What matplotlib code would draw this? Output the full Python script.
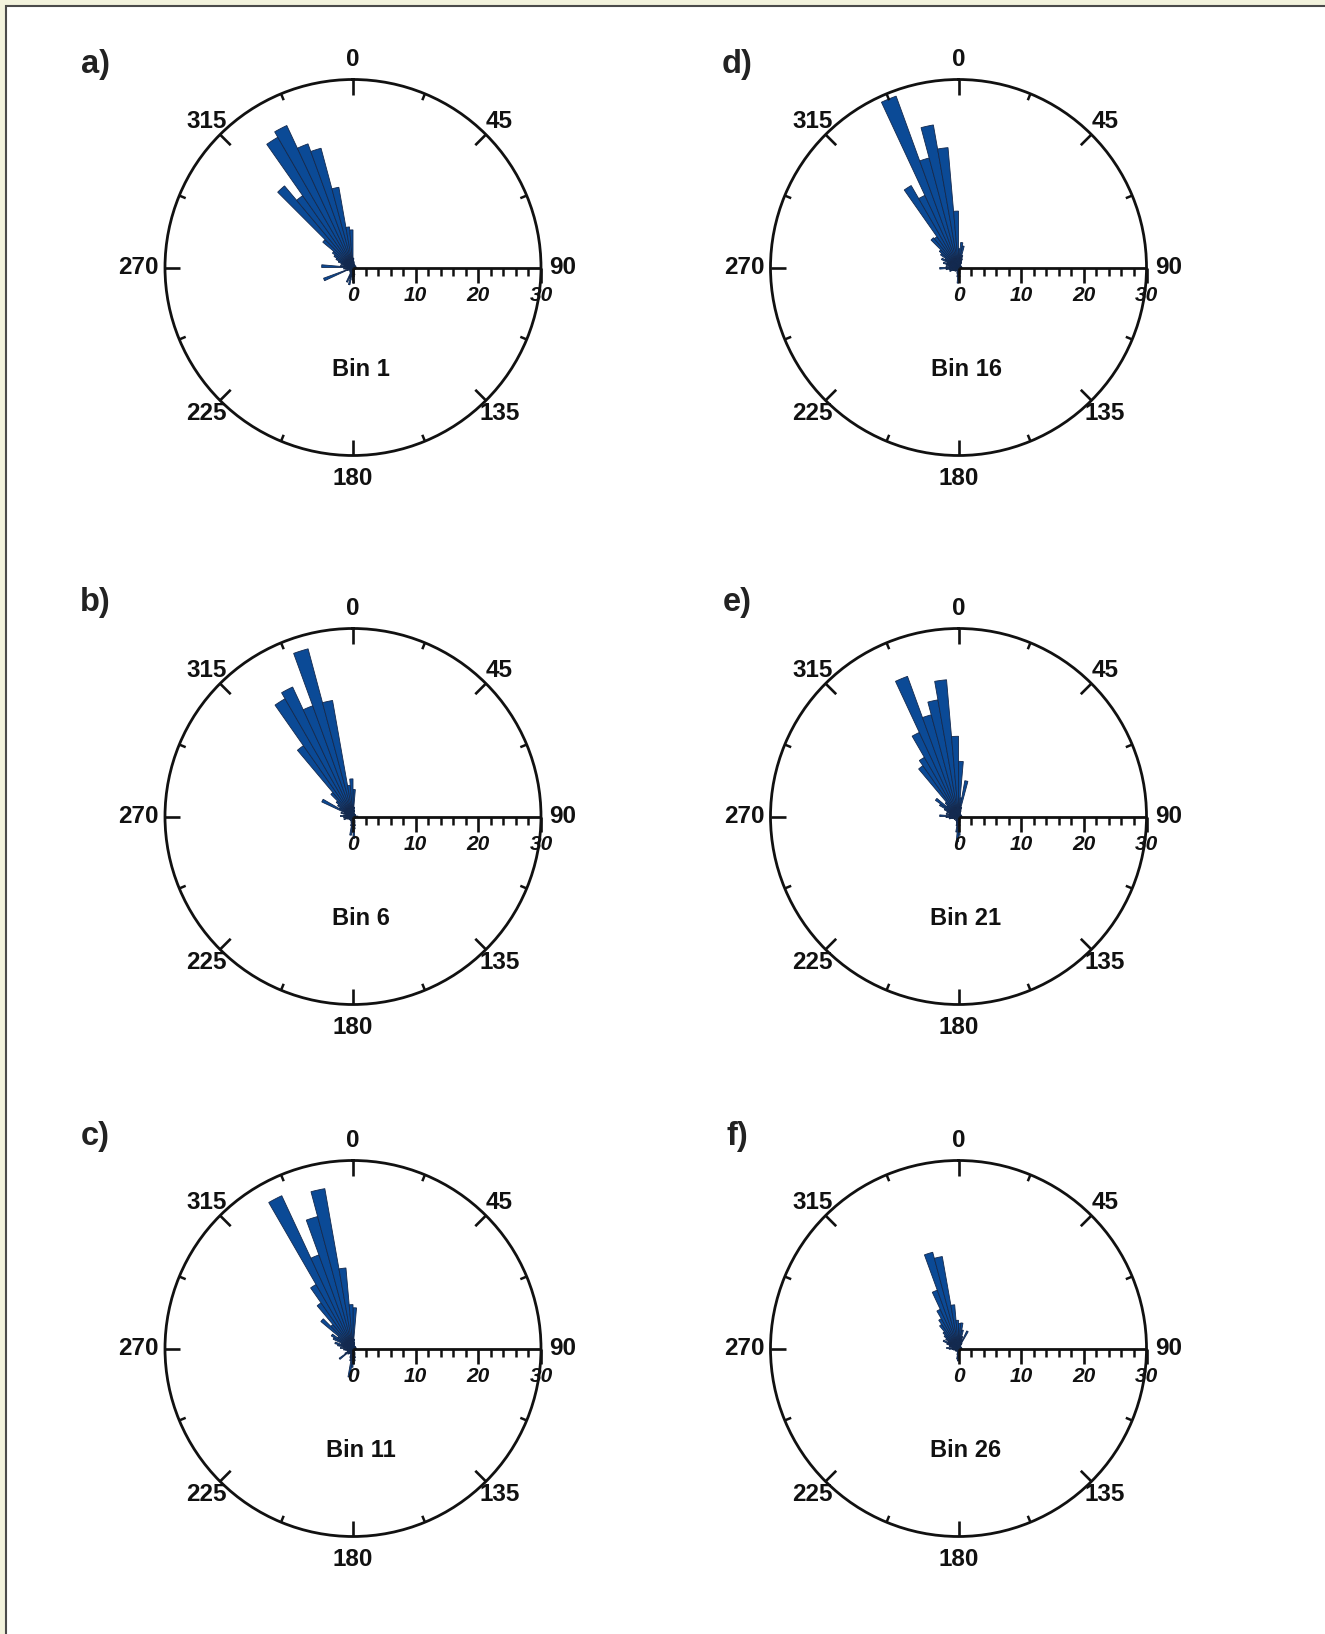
"""Rose diagrams of fracture azimuths for six depth bins."""
import numpy as np
import matplotlib.pyplot as plt
from matplotlib.patches import Rectangle

plt.rcParams['font.family'] = ['Liberation Sans', 'DejaVu Sans']

# 5-degree azimuth bins, centred on 2.5, 7.5, ... 357.5
BIN_CENTERS = np.arange(2.5, 360, 5)
BIN_WIDTH = 5.0
R_MAX = 30

# counts per bin, one row of 12 bins = 60 degrees
BIN_1 = [
    1.5, 1.0, 0.8, 0.5, 0.6, 0.4, 0.5, 0.3, 0.5, 0.3, 0.4, 0.3,
    0.5, 0.3, 0.4, 0.3, 0.5, 0.6, 0.5, 0.3, 0.4, 0.3, 0.4, 0.3,
    0.5, 0.3, 0.4, 0.3, 0.4, 0.3, 0.5, 0.6, 0.8, 1.2, 1.5, 2.5,
    2.0, 1.5, 2.8, 1.8, 2.5, 1.0, 0.8, 0.6, 0.8, 0.5, 0.7, 0.6,
    1.0, 5.0, 0.8, 1.2, 1.5, 1.0, 5.0, 2.0, 1.5, 2.0, 2.5, 3.0,
    3.5, 4.0, 6.3, 17.0, 14.0, 24.0, 25.0, 21.0, 19.7, 13.0, 6.5, 6.0,
]
BIN_6 = [
    4.3, 1.5, 1.0, 0.6, 0.5, 0.4, 0.5, 0.3, 0.4, 0.3, 0.5, 0.3,
    0.4, 0.3, 0.5, 0.3, 0.4, 0.8, 0.4, 0.3, 0.5, 0.3, 0.4, 0.3,
    0.4, 0.3, 0.5, 0.3, 0.4, 0.3, 0.5, 0.8, 1.0, 1.5, 2.0, 3.5,
    2.5, 3.0, 1.5, 1.0, 0.8, 0.6, 0.8, 0.5, 0.6, 0.5, 0.8, 0.6,
    0.8, 1.0, 1.5, 1.0, 1.5, 1.0, 2.0, 1.5, 1.0, 2.0, 1.5, 5.5,
    2.5, 3.0, 3.5, 5.0, 13.8, 21.7, 22.8, 18.8, 27.7, 18.8, 5.0, 6.0,
]
BIN_11 = [
    6.5, 1.5, 1.0, 0.8, 0.5, 0.4, 0.5, 0.3, 0.4, 0.3, 0.5, 0.3,
    0.4, 0.3, 0.5, 0.3, 0.4, 0.6, 0.5, 0.3, 0.4, 0.3, 0.5, 0.3,
    0.4, 0.3, 0.5, 0.3, 0.4, 0.3, 0.5, 0.8, 1.0, 1.5, 2.0, 2.5,
    3.0, 4.6, 2.0, 1.5, 1.0, 0.8, 1.0, 0.8, 1.2, 1.0, 2.7, 1.5,
    1.0, 0.8, 1.0, 1.2, 1.5, 1.0, 2.0, 1.5, 2.5, 3.0, 2.0, 3.5,
    4.0, 3.0, 6.7, 5.0, 8.9, 11.8, 26.9, 15.9, 21.8, 25.9, 12.9, 7.0,
]
BIN_16 = [
    3.0, 4.0, 3.5, 2.0, 1.5, 1.0, 0.8, 0.5, 0.4, 0.3, 0.5, 0.3,
    0.4, 0.3, 0.5, 0.3, 0.4, 0.6, 0.5, 0.3, 0.4, 0.3, 0.5, 0.3,
    0.4, 0.3, 0.5, 0.3, 0.4, 0.3, 0.5, 0.6, 0.8, 1.0, 1.5, 2.0,
    2.5, 1.5, 1.0, 0.8, 0.6, 0.5, 0.6, 0.5, 0.8, 0.6, 0.8, 0.6,
    1.0, 1.5, 1.0, 1.5, 2.0, 3.0, 2.0, 1.5, 2.0, 2.5, 2.0, 3.0,
    2.5, 3.5, 4.0, 6.2, 6.0, 15.1, 12.7, 29.1, 18.1, 23.1, 19.2, 9.0,
]
BIN_21 = [
    8.8, 3.0, 5.8, 1.5, 1.0, 0.6, 0.5, 0.3, 0.4, 0.3, 0.5, 0.3,
    0.4, 0.3, 0.5, 0.3, 0.4, 0.6, 0.5, 0.3, 0.4, 0.3, 0.5, 0.3,
    0.4, 0.3, 0.5, 0.3, 0.4, 0.3, 0.5, 0.6, 0.8, 1.0, 1.5, 3.0,
    4.0, 2.5, 1.5, 1.0, 0.8, 0.6, 0.8, 0.5, 0.6, 0.5, 0.8, 0.6,
    0.8, 0.6, 1.0, 1.5, 1.5, 2.0, 3.0, 1.5, 2.0, 1.5, 2.0, 2.5,
    3.5, 4.5, 2.5, 3.0, 9.9, 10.9, 14.8, 23.8, 16.8, 18.9, 21.9, 12.8,
]
BIN_26 = [
    4.0, 4.1, 3.0, 2.0, 1.5, 3.1, 1.0, 0.6, 0.4, 0.3, 0.5, 0.3,
    0.4, 0.3, 0.5, 0.3, 0.4, 0.6, 0.5, 0.3, 0.4, 0.3, 0.5, 0.3,
    0.4, 0.3, 0.5, 0.3, 0.4, 0.3, 0.5, 0.6, 0.5, 0.8, 1.0, 1.5,
    2.0, 1.7, 1.0, 0.6, 0.5, 0.4, 0.5, 0.4, 0.6, 0.5, 0.6, 0.5,
    0.6, 0.5, 0.8, 0.6, 1.0, 1.5, 1.9, 1.0, 1.5, 1.5, 2.0, 2.7,
    2.0, 2.5, 3.0, 3.5, 4.7, 5.5, 6.9, 9.9, 15.9, 14.9, 7.0, 4.5,
]

PANEL_LETTERS = ["a)", "b)", "c)", "d)", "e)", "f)"]
BIN_NAMES = ["Bin 1", "Bin 6", "Bin 11", "Bin 16", "Bin 21", "Bin 26"]
COUNTS = [BIN_1, BIN_6, BIN_11, BIN_16, BIN_21, BIN_26]

AZIMUTH_LABELS = [0, 45, 90, 135, 180, 225, 270, 315]
SCALE_MAJOR = [0, 10, 20, 30]
SCALE_MINOR = [2, 4, 6, 8, 12, 14, 16, 18, 22, 24, 26, 28]

BAR_COLOR = "#0b4a96"
BAR_EDGE = "#14294d"
INK = "#111111"

W, H = 1325, 1634
D = 376  # diameter of each rose in pixels
# rose centres in pixels from the top-left corner
CENTRES = [(353, 267.5), (353, 816.5), (353, 1348.5),
           (958.5, 267.5), (958.5, 816.5), (958.5, 1348.5)]
LETTER_XY = [(95, 65), (95, 602), (95, 1137),
             (737, 65), (737, 602), (737, 1137)]
# radius (in count units) at which each azimuth label sits
LABEL_R = {0: 33.2, 45: 33.0, 90: 33.5, 135: 33.0,
           180: 33.6, 225: 33.0, 270: 34.2, 315: 33.0}


def rose(ax, counts, name):
    ax.set_theta_zero_location("N")
    ax.set_theta_direction(-1)
    ax.bar(np.deg2rad(BIN_CENTERS), counts, width=np.deg2rad(BIN_WIDTH),
           color=BAR_COLOR, edgecolor=BAR_EDGE, linewidth=0.6, zorder=3)
    ax.set_ylim(0, R_MAX)
    ax.set_xticks([])
    ax.set_yticks([])
    ax.grid(False)
    ax.set_facecolor("none")
    ax.spines["polar"].set_linewidth(2.0)
    ax.spines["polar"].set_color(INK)

    # inward ticks on the rim: long every 45 deg, short in between
    for a in range(0, 360, 45):
        if a == 90:
            continue
        ax.plot([np.deg2rad(a)] * 2, [R_MAX, R_MAX - 2.4], color=INK, lw=1.9,
                solid_capstyle="butt", zorder=4)
    for a in np.arange(22.5, 360, 45):
        ax.plot([np.deg2rad(a)] * 2, [R_MAX, R_MAX - 1.1], color=INK, lw=1.8,
                solid_capstyle="butt", zorder=4)

    # radial count scale along the 90 deg direction
    east = np.pi / 2
    ax.plot([east, east], [0, R_MAX], color=INK, lw=2.0, zorder=4,
            solid_capstyle="butt", clip_on=False)
    ax.plot([east] * len(SCALE_MINOR), SCALE_MINOR, ls="", marker=3, ms=6,
            mew=1.8, color=INK, zorder=4, clip_on=False)
    ax.plot([east] * len(SCALE_MAJOR), SCALE_MAJOR, ls="", marker=3, ms=10.5,
            mew=1.9, color=INK, zorder=4, clip_on=False)
    for v in SCALE_MAJOR:
        ax.annotate(str(v), (east, v), xytext=(0, -20.5), textcoords="offset points",
                    ha="center", va="center", fontsize=15, fontweight="bold",
                    fontstyle="italic", color=INK, zorder=5)

    for a in AZIMUTH_LABELS:
        ax.text(np.deg2rad(a), LABEL_R[a], str(a), ha="center", va="center",
                fontsize=17.5, fontweight="bold", color=INK)

    ax.text(0.52, 0.229, name, transform=ax.transAxes, ha="center",
            va="center", fontsize=17, fontweight="bold", color=INK)


def main():
    fig = plt.figure(figsize=(W / 100, H / 100), dpi=100)
    fig.patch.set_facecolor("#f2f2dc")
    fig.add_artist(Rectangle((5.5 / W, -0.01), 1.1, 1.01 - 5.5 / H,
                             transform=fig.transFigure, facecolor="white",
                             edgecolor="#4a4a4a", lw=1.5, zorder=-1))

    for (cx, cy), (lx, ly), letter, name, counts in zip(
            CENTRES, LETTER_XY, PANEL_LETTERS, BIN_NAMES, COUNTS):
        ax = fig.add_axes([(cx - D / 2) / W, (H - cy - D / 2) / H, D / W, D / H],
                          projection="polar")
        rose(ax, counts, name)
        fig.text(lx / W, 1 - ly / H, letter, ha="center", va="center",
                 fontsize=23.5, fontweight="bold", color="#222222")

    fig.savefig("out.png", dpi=100, facecolor=fig.get_facecolor())


if __name__ == "__main__":
    main()
